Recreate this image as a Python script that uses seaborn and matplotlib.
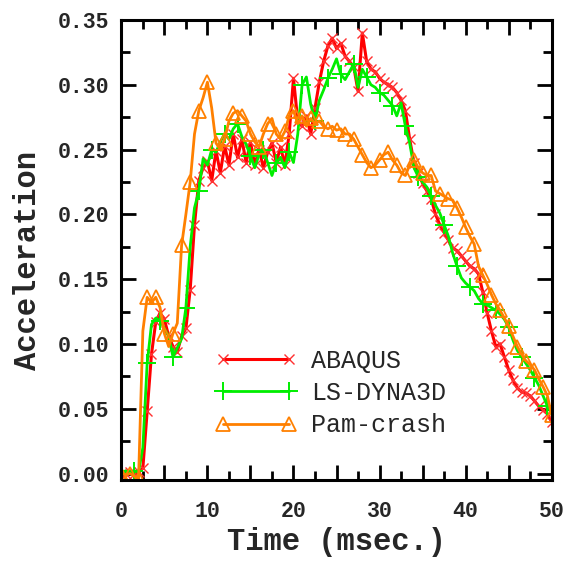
import numpy as np
import pandas as pd
import matplotlib
matplotlib.use("Agg")
import matplotlib.pyplot as plt
import seaborn as sns
from matplotlib.ticker import MultipleLocator, FuncFormatter

# Tiempo (msec.) cada 0.5
time_ms = [i * 0.5 for i in range(101)]

abaqus = [
    0.000, 0.000, 0.001, 0.000, 0.001, 0.004, 0.048, 0.092, 0.117, 0.124,
    0.119, 0.106, 0.098, 0.094, 0.106, 0.112, 0.142, 0.192, 0.226, 0.236,
    0.241, 0.226, 0.249, 0.232, 0.253, 0.238, 0.262, 0.244, 0.258, 0.240,
    0.256, 0.238, 0.250, 0.236, 0.248, 0.255, 0.240, 0.252, 0.238, 0.262,
    0.305, 0.272, 0.268, 0.276, 0.262, 0.282, 0.302, 0.318, 0.330, 0.336,
    0.328, 0.332, 0.322, 0.318, 0.314, 0.295, 0.340, 0.318, 0.312, 0.310,
    0.305, 0.302, 0.300, 0.298, 0.294, 0.288, 0.280, 0.258, 0.240, 0.232,
    0.224, 0.218, 0.212, 0.200, 0.192, 0.186, 0.180, 0.174, 0.172, 0.168,
    0.164, 0.160, 0.158, 0.154, 0.140, 0.124, 0.110, 0.098, 0.100, 0.090,
    0.080, 0.072, 0.066, 0.063, 0.062, 0.060, 0.056, 0.052, 0.049, 0.046,
    0.040,
]

ls_dyna = [
    0.001, 0.002, 0.001, 0.002, 0.001, 0.020, 0.085, 0.115, 0.120, 0.118,
    0.112, 0.106, 0.090, 0.097, 0.104, 0.128, 0.175, 0.205, 0.218, 0.243,
    0.238, 0.250, 0.248, 0.256, 0.262, 0.258, 0.266, 0.270, 0.260, 0.254,
    0.245, 0.236, 0.246, 0.250, 0.240, 0.230, 0.240, 0.244, 0.236, 0.248,
    0.240, 0.262, 0.300, 0.306, 0.285, 0.272, 0.288, 0.296, 0.305, 0.312,
    0.320, 0.308, 0.304, 0.310, 0.316, 0.298, 0.312, 0.306, 0.300, 0.298,
    0.294, 0.292, 0.288, 0.284, 0.276, 0.286, 0.268, 0.255, 0.236, 0.229,
    0.225, 0.221, 0.214, 0.207, 0.201, 0.192, 0.183, 0.170, 0.160, 0.151,
    0.147, 0.144, 0.141, 0.135, 0.131, 0.130, 0.128, 0.126, 0.123, 0.119,
    0.113, 0.103, 0.095, 0.090, 0.085, 0.080, 0.074, 0.068, 0.060, 0.052,
    0.046,
]

pam_crash = [
    0.000, -0.001, 0.000, -0.002, -0.004, 0.110, 0.136, 0.132, 0.136, 0.128,
    0.108, 0.098, 0.108, 0.116, 0.176, 0.200, 0.225, 0.262, 0.280, 0.290,
    0.302, 0.282, 0.255, 0.250, 0.258, 0.272, 0.278, 0.280, 0.276, 0.272,
    0.262, 0.256, 0.252, 0.262, 0.270, 0.274, 0.262, 0.258, 0.264, 0.276,
    0.280, 0.270, 0.276, 0.268, 0.274, 0.270, 0.272, 0.268, 0.266, 0.268,
    0.265, 0.266, 0.262, 0.262, 0.258, 0.252, 0.246, 0.240, 0.236, 0.238,
    0.242, 0.246, 0.248, 0.242, 0.238, 0.232, 0.230, 0.238, 0.242, 0.236,
    0.232, 0.230, 0.230, 0.218, 0.216, 0.214, 0.212, 0.211, 0.205, 0.198,
    0.190, 0.183, 0.177, 0.160, 0.153, 0.146, 0.138, 0.131, 0.126, 0.120,
    0.114, 0.106, 0.098, 0.092, 0.087, 0.084, 0.080, 0.073, 0.067, 0.060,
    0.045,
]

series_names = ["ABAQUS", "LS-DYNA3D", "Pam-crash"]

df = pd.DataFrame({"time": time_ms, "ABAQUS": abaqus,
                   "LS-DYNA3D": ls_dyna, "Pam-crash": pam_crash})

sns.set_theme(style="ticks")
plt.rcParams["font.family"] = ["Liberation Mono", "DejaVu Sans"]

fig = plt.figure(figsize=(5.67, 5.63), dpi=100)
ax = fig.add_axes([0.214, 0.1474, 0.759, 0.8171])

estilos = {
    "ABAQUS": dict(color="#ff0000", mec="#ff3030", marker="x", markersize=7,
                   mew=1.0, markevery=1, lw=2.2),
    "LS-DYNA3D": dict(color="#00ee00", mec="#00ee00", marker="+",
                      markersize=13, mew=1.4, markevery=3, lw=2.0),
    "Pam-crash": dict(color="#ff8000", mec="#ff8000", marker="^",
                      markersize=10, mew=1.3, mfc="none", markevery=2, lw=2.0),
}

for name in series_names:
    sns.lineplot(data=df, x="time", y=name, ax=ax, label=name,
                 **estilos[name])

ax.set_xlim(0, 50)
ax.set_ylim(-0.005, 0.35)

ax.xaxis.set_major_locator(MultipleLocator(5))
ax.xaxis.set_minor_locator(MultipleLocator(2.5))
ax.xaxis.set_major_formatter(FuncFormatter(
    lambda v, p: f"{int(round(v))}" if round(v) % 10 == 0 else ""))
ax.yaxis.set_major_locator(MultipleLocator(0.05))
ax.yaxis.set_minor_locator(MultipleLocator(0.025))
ax.yaxis.set_major_formatter(FuncFormatter(lambda v, p: f"{v:.2f}"))

for s in ax.spines.values():
    s.set_visible(True)
    s.set_linewidth(2.2)
    s.set_color("black")

ax.tick_params(which="both", direction="in", top=True, right=True,
               width=2.0, color="black")
ax.tick_params(which="major", length=11)
ax.tick_params(which="minor", length=6.5)
ax.tick_params(axis="x", which="major", pad=15, labelsize=15.5)
ax.tick_params(axis="y", which="major", pad=9, labelsize=15.5)
for lab in ax.get_xticklabels() + ax.get_yticklabels():
    lab.set_fontweight("bold")

ax.set_xlabel("Time (msec.)", fontsize=22, fontweight="bold", labelpad=4)
ax.set_ylabel("Acceleration", fontsize=22, fontweight="bold")
ax.yaxis.set_label_coords(-0.182, 0.478)
ax.grid(False)

ax.legend(loc="upper left", bbox_to_anchor=(0.218, 0.285), frameon=False,
          fontsize=18, numpoints=2, handlelength=3.25, handletextpad=0.6,
          labelspacing=0.33, borderpad=0, borderaxespad=0)

fig.savefig("out.png", dpi=100)
